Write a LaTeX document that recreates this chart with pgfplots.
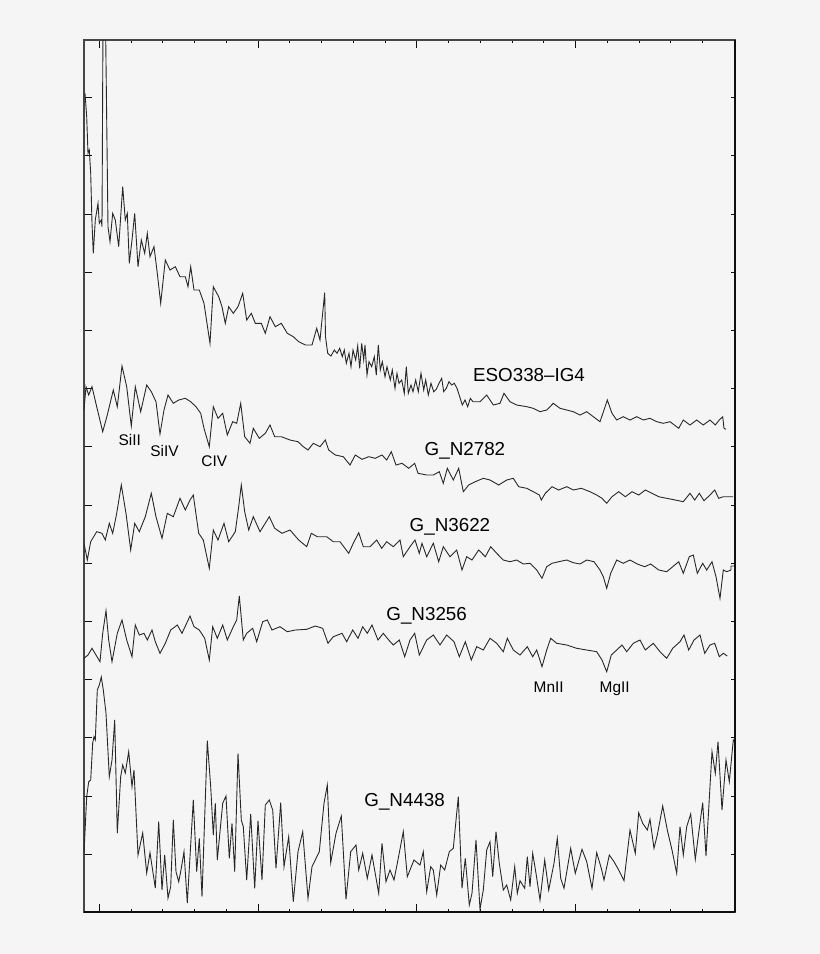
\documentclass[border=0pt]{standalone}
\usepackage{pgfplots}
\pgfplotsset{compat=1.18}
\usepackage{pgfplotstable}
\usepackage{fontspec}
\setmainfont{Liberation Sans}

\definecolor{bgc}{RGB}{245,245,245}
\definecolor{spec}{RGB}{40,40,40}
\definecolor{frame}{RGB}{70,70,70}
\definecolor{frameb}{RGB}{15,15,15}

% all values: x and y in pixels of the original figure
\pgfplotstableread{
x y
85 93.3
86.7 116.7
88 153.3
89.3 150
90.7 173.3
92 223.3
93.3 253.3
95.3 220
98 203.3
99.3 223.3
101.3 220
102 226.7
103 20
105.5 20
108 226.7
110 241.7
112.7 213.3
115.3 220
118.7 246.7
122.7 186.7
125.3 220
127.3 213.3
129.3 263.3
132 240
134.7 213.3
138 266.7
141.3 240
144.7 253.3
147.3 233.3
150 256.7
154 246.7
157.3 273.3
160.7 303.3
165.3 260
170 270
175.3 266.7
180 276.7
185.3 276.7
188 286.7
190.7 266.7
194 290
199.3 290
204 303.3
210 343.3
213.3 286.7
218.7 296.7
222 306.7
225.3 323.3
228.7 306.7
233.3 313.3
238 306.7
242.7 293.3
246.7 320
251.3 313.3
255.3 323.3
261.3 323.3
265.3 333.3
270 316.7
275.3 326.7
281.3 323.3
287.3 333.3
293.3 336.7
298.7 341.7
305.3 345
312 345
316.7 328.3
320 340
324.7 292.7
325.5 336.7
327.7 353.3
331 356
334.3 350
337 353.3
339.7 348.3
342.3 356.7
344.3 350
346.3 363.3
349 353.3
351 366.7
353 350
355.7 360
357.7 346
359.7 368.3
361.7 343.3
363.7 360
365 345
367 375
369 361.7
371.7 366.7
374.3 356.7
376.3 375
378.3 345
380.3 370
382.3 361.7
385 376.7
387 366.7
390.3 380
392.3 370
395 388.3
397 373.3
399 383.3
401.7 380
404.3 393.3
406.3 366.7
408.3 393.3
411 385
413 391.7
415.7 380
418.3 391.7
421 373.3
423.7 390
425.7 380
428.3 395
431 383.3
433.7 391.7
436.3 389.3
439 383.3
441.7 378.3
443.7 391.7
446.3 388.3
449 381.7
451.7 385
454.3 383.3
457 388.3
459.7 396.7
462.3 405
465 400
467.7 406.7
470.3 398.3
473 401.7
480 401.7
486.7 395
493.3 405
500 403.3
504 393.3
510 401.7
516.7 405
526.7 406.7
533.3 408.3
540 411.7
546.7 410
553.3 403.3
560 408.3
566.7 410
573.3 411.7
580 415
586.7 411.7
593.3 416.7
600 421.7
604 410
607.3 400
612 413.3
616.7 420
623.3 416.7
630 420
636.7 416.7
643.3 420
650 418.3
656.7 421.7
663.3 423.3
670 421.7
678.7 428.3
683.3 420
690 425
696.7 420
703.3 425
710 420
715.3 425
719.3 420
722.7 416.7
724 428.3
726 429.3
}\eso

\pgfplotstableread{
x y
84 410
86 386.7
88.7 395
92 386.7
96.7 406.7
102.7 431.7
107.3 415
113.3 390
117.3 406.7
122 366
126.7 386.7
131.3 426
135.3 386.7
140.7 411.7
146.7 385
151.3 391.7
156 401.7
160 434
164 410
168 395
173.3 403.3
178.7 400
185.3 398.3
190.7 401.7
196 406.7
200.7 413.3
204 428.3
209.3 446.7
213.3 406.7
218 418.3
222.7 413.3
227.3 435
232.7 421.7
236.7 423.3
240.7 403.3
244.7 436.7
250 443.3
253.3 428.3
259.3 438.3
265.3 433.3
270 425
274.7 436.7
281.3 436.7
290 440
298 441.7
303.3 446.7
308 450
313.3 443.3
320 446.7
325.3 440
328.7 450
335.3 455
343.3 456.7
350 465
355.3 455
362 459.3
368.7 456.7
375.3 458.3
382 455
386.7 460
391.3 451.7
396 465
402 463.3
408.7 468.3
414.7 463.3
418 473.3
426.7 475
433.3 475
439.3 471.7
443.3 483.3
447.3 468.3
453.3 480
458.7 468.3
463.3 491.7
468.7 485
475.3 481.7
483.3 478.3
490 480
498.7 485
506.7 480
513.3 478.3
518.7 486.7
526.7 488.3
533.3 491.7
539.3 495
541.3 500
545.3 493.3
552 486.7
558.7 490
566.7 486.7
573.3 490
581.3 488.3
590 491.7
596.7 495
602 498.3
606.7 503.3
612 496.7
618.7 491.7
625.3 496.7
632 491.7
638.7 495
645.3 490
652 493.3
658.7 496.7
666.7 498.3
675.3 500
683.3 501.7
690 493.3
694.7 500
699.3 493.3
704 500.7
710 495
714.7 490
718.7 498.3
723.3 496.7
733 496.7
}\ntwo

\pgfplotstableread{
x y
84 543.3
87.3 560
90.7 541.7
96.7 531.7
102 533.3
105.3 540
109.3 523.3
112.7 533.3
116.7 513.3
121.3 485
126 513.3
130.7 550
134.7 523.3
139.3 531.7
145.3 516.7
151.3 493.3
156 516.7
162 538.3
167.3 513.3
173.3 516.7
180 498.3
185.3 510
190 500
193.3 495
198.7 533.3
203.3 540
209.3 568.3
213.3 530
218 540
224 523.3
228.7 541.7
235.3 531.7
238.7 506.7
241.3 485
244.7 511.7
248.7 530
253.3 516.7
260 531.7
269.3 516.7
274.7 528.3
282 533.3
290 530
298.7 540
306.7 546.7
311.3 533.3
317.3 536.7
326.7 536.7
333.3 541.7
340 541.7
348.7 553.3
353.3 543.3
358.7 532.7
363.3 546.7
370 546.7
376.7 540
381.7 548.3
386.7 541.7
393.3 546.7
400 540
403.3 556.7
410 546.7
415 540
419.3 553.3
422 543.3
426.7 556.7
433.3 543.3
438.7 561.7
443.3 546.7
450 556.7
456.7 550
462 570
466.7 556.7
472 560
478.7 550
485.3 556.7
490.7 546.7
496.7 553.3
503.3 560
510 561.7
516.7 560
523.3 564
530 563.3
536.7 570
542 578.3
546.7 566.7
552 563.3
558.7 561.7
566.7 560
573.3 562.7
580 564
586.7 560
594 561.7
600 570
603.3 576.7
606.7 588.3
610.7 573.3
616.7 560
623.3 563.3
630 560
637.3 564
644.7 566.7
650.7 564
658.7 570
666.7 571.7
672.7 566.7
678.7 561.7
683.3 573.3
689.3 556.7
693.3 555
697.3 573.3
702.7 563.3
706.7 570
712 561.7
716 576.7
720 598.3
723.3 570
726.7 571.7
731 570
731 566
735 566
}\nthree

\pgfplotstableread{
x y
84 658.3
88 655
92 648.3
96 655
100 661.7
102.7 633.3
106 610.7
108.7 640
112 661.7
117.3 633.3
122 620
126.7 640
132 656.7
135.3 625
139.3 635
144 633.3
147.3 640
152 630
155.3 641.7
160 653.3
165.3 643.3
170.7 630
177.3 625
182 633.3
190 616
194 626.7
199.3 630
204.7 638.3
209.3 660
212.7 626.7
217.3 638.3
222.7 625
227.3 640
233.3 626.7
236.7 620
239.3 596
243.3 640
246.7 633.3
252.7 628.3
256.7 641.7
262.7 621.7
267.3 620
272 630
280 626.7
287.3 631.7
295.3 630
306.7 629.3
315.3 626
322.7 628.3
328 643.3
333.3 636.7
342 633.3
346.7 641.7
352.7 630
358 638.3
362.7 626.7
367.3 633.3
372 625
378 640
383.3 633.3
388.7 640
393.3 645
399.3 640
404.7 656.7
410 640
414.7 633.3
419.3 655
426.7 640
433.3 635
440 645
446.7 635
454 641.7
459.3 656.7
465.3 641.7
471.3 660
476.7 646.7
483.3 650
490 638.3
496.7 643.3
503.3 651.7
507.3 638.3
513.3 650
520 655
527.3 646.7
532.7 656.7
536.7 650
542 666.7
546.7 650
550.7 638.3
556.7 643.3
566.7 645
576.7 648.3
586.7 650
596.7 651.7
602 660
606.7 671.7
611.3 655
616.7 650
622 645
626.7 651.7
633.3 643.3
640 640
645.3 650
653.3 643.3
660 651.7
666.7 658.3
672.7 648.3
680 641.7
684 635
688.7 650
694 640
700 635
704.7 653.3
710 645
714.7 643.3
719.3 656.7
723.3 653.3
727.3 656
}\nfour

\pgfplotstableread{
x y
84 853
86.7 796.7
88.7 781.7
90.7 780
92.7 743
94 736.7
95.3 740
97.3 690
99.3 685
101.3 677
103.3 690
106 713
109.3 776.7
112 760
114.7 720
117.3 833
120.7 776.7
122.7 765
125.3 773
128.7 751.7
132 786.7
134 770
138 855
142.7 833
146.7 873
150 852.7
155.3 888
158.7 821.7
162 890
164.7 855
168 898
170.7 886.7
173.3 820
176 871.7
178.7 881.7
180.7 871.7
184 851.7
187.3 903
190 856.7
193.3 800
196.7 871.7
199.3 838.3
202 896.7
207.3 740.7
210.7 786.7
213.3 835
215.3 803.3
217.3 860
222.7 803.3
226 796
229.3 858.3
232 823.3
234.7 871.7
238 753.3
241.3 820
243.3 826.7
246.7 880
250.7 814
254.7 888.3
258 820.7
262 880
265.3 805
269.3 800
272.7 810
276 868.3
280.7 802.7
284 866.7
288.7 836.7
293.3 901.7
298 851.7
302.7 831.7
308 898.3
312 866.7
319.3 851.7
324 803.3
327.3 785
330.7 862.7
336 833.3
341.3 816
346 899.3
350.7 851.7
356 845
358.7 870
362.7 853.3
367.3 878.3
372 855
378.7 893.3
382 843.3
386 881.7
390 870
394 880
397.3 863.3
403.3 831.7
407.3 876.7
414 860
420 865
423.3 851.7
426.7 891.7
430.7 866.7
433.3 870
436.7 895
440.7 865
444.7 870
449.3 851.7
453.3 848.3
458.3 796.7
462 888.3
465.3 858.3
469.3 905
472 893.3
476 840
480 909.3
483.3 890
486.7 850
490 841.7
492.7 876.7
496 831.7
499.3 863.3
503.3 890
506.7 885
510.7 900
514.7 866.7
517.3 893.3
520 880.7
524.7 888.3
527.3 856.7
530 886.7
532.7 853.3
536 873.3
540 900
544.7 860
548.7 890
554 863.3
557.3 838.3
560.7 878.3
564 888.3
570.7 848.3
575.3 873.3
582 849.3
586.7 861.7
592 888.3
596.7 852.7
601.3 868.3
604 880
609.3 855
614 861.7
618.7 870
624 880.7
630 830
635.3 853.3
638.7 812.7
642.7 823.3
647.3 830
650 819.3
654 848.3
657.3 835
662.7 806
667.3 830
672 850
676.7 873.3
680 826.7
683.3 855
686.7 826.7
690.7 814
695.3 859.3
699.3 828.3
702.7 802.7
706 856
712 751.7
715.3 773.3
718 741.7
722 810
726 760
729.3 781.7
733.3 740
735 741.7
}\nfive

\pgfplotsset{
  specaxis/.style={
    at={(42pt,21pt)}, anchor=south west,
    scale only axis, width=325.5pt, height=436pt,
    xmin=84, xmax=735, ymin=40, ymax=912, y dir=reverse,
    tick style={frameb, line width=0.5pt},
    tick align=inside,
    ytick={97.7,155.9,...,855},
    xticklabels={}, yticklabels={},
  },
}

\begin{document}
\begin{tikzpicture}
\fill[bgc] (0pt,0pt) rectangle (410pt,477pt);
\begin{axis}[
  specaxis,
  axis line style={frame, line width=0.55pt},
  xtick pos=both, ytick pos=left,
  xtick={99.3,258.05,416.8,575.55},
  minor xtick={131.05,162.8,194.55,226.3,289.8,321.55,353.3,385.05,448.55,480.3,512.05,543.8,607.3,639.05,670.8,702.55},
  major tick length=3.85pt, minor tick length=1.65pt,
]
\addplot[spec, line width=0.45pt, no markers] table {\eso};
\addplot[spec, line width=0.45pt, no markers] table {\ntwo};
\addplot[spec, line width=0.45pt, no markers] table {\nthree};
\addplot[spec, line width=0.45pt, no markers] table {\nfour};
\addplot[spec, line width=0.45pt, no markers] table {\nfive};

\begin{scope}[every node/.style={anchor=base west, inner sep=0pt, text=black}]
\node[font=\fontsize{9.4}{10}\selectfont] at (axis cs:472.7,381.7) {ESO338\textendash IG4};
\node[font=\fontsize{9.4}{10}\selectfont] at (axis cs:424.3,455) {G\_N2782};
\node[font=\fontsize{9.4}{10}\selectfont] at (axis cs:409.3,531.7) {G\_N3622};
\node[font=\fontsize{9.4}{10}\selectfont] at (axis cs:386,620) {G\_N3256};
\node[font=\fontsize{9.4}{10}\selectfont] at (axis cs:364,806.7) {G\_N4438};
\node[font=\fontsize{7.7}{8}\selectfont] at (axis cs:118.3,445) {SiII};
\node[font=\fontsize{7.7}{8}\selectfont] at (axis cs:150,456) {SiIV};
\node[font=\fontsize{7.7}{8}\selectfont] at (axis cs:201,466.7) {CIV};
\node[font=\fontsize{7.7}{8}\selectfont] at (axis cs:533.3,692.3) {MnII};
\node[font=\fontsize{7.7}{8}\selectfont] at (axis cs:599.3,692.3) {MgII};
\end{scope}
\end{axis}

% darker bottom and right edges, with the right-hand ticks shorter than the left ones
\begin{axis}[
  specaxis,
  axis x line*=bottom, axis y line*=right,
  axis line style={frameb, line width=0.9pt},
  xtick=\empty,
  major tick length=2pt,
]
\end{axis}
\end{tikzpicture}
\end{document}
